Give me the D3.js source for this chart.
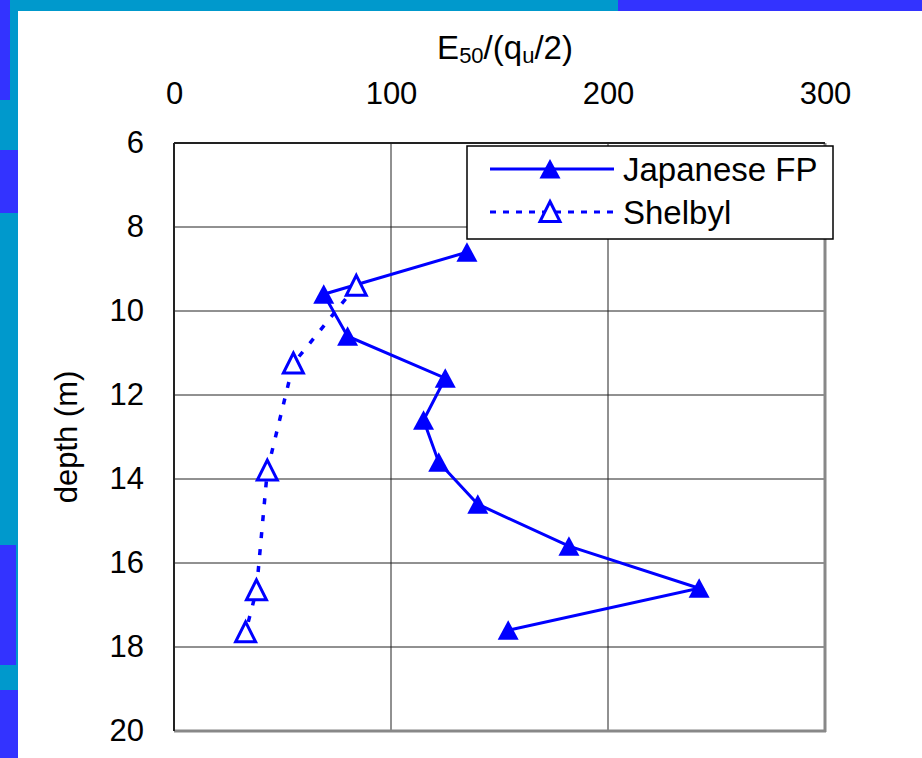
<!DOCTYPE html>
<meta charset="utf-8">
<style>
    body { margin: 0; background: #fff; }
    text { font-family: "Liberation Sans", Arial, sans-serif; fill: #000; }
    .axis path { display: none; }
    .axis line { display: none; }
    .grid { stroke: #222; stroke-width: 1; }
</style>
<svg width="922" height="758"></svg>
<script src="https://d3js.org/d3.v7.min.js"></script>
<script>

    // data
    var jpDepth = [8.6, 9.6, 10.6, 11.6, 12.6, 13.6, 14.6, 15.6, 16.6, 17.6];
    var jpValue = [135, 69, 80, 125, 115, 122, 140, 182, 242, 154];
    var shDepth = [9.4, 11.25, 13.8, 16.65, 17.65];
    var shValue = [84, 55, 43, 38, 33];
    var xTicks = [0, 100, 200, 300];
    var yTicks = [6, 8, 10, 12, 14, 16, 18, 20];
    var seriesNames = ["Japanese FP", "Shelbyl"];

    var svg = d3.select("svg");

    // slide background bits
    svg.append("rect").attr("width", 922).attr("height", 758).attr("fill", "#0099cc");
    svg.append("rect").attr("x", 618).attr("width", 304).attr("height", 11).attr("fill", "#3333ff");
    svg.append("rect").attr("width", 10).attr("height", 100).attr("fill", "#3333ff");
    svg.append("rect").attr("y", 150).attr("width", 18).attr("height", 63).attr("fill", "#3333ff");
    svg.append("rect").attr("y", 545).attr("width", 16).attr("height", 120).attr("fill", "#3333ff");
    svg.append("rect").attr("y", 690).attr("width", 18).attr("height", 68).attr("fill", "#3333ff");
    svg.append("rect").attr("x", 18).attr("y", 11).attr("width", 904).attr("height", 747).attr("fill", "#fff");

    var x = d3.scaleLinear().domain([0, 300]).range([174, 825]),
        y = d3.scaleLinear().domain([6, 20]).range([143, 731]);

    // grid
    svg.selectAll(".gx").data([100, 200]).enter().append("line")
        .attr("class", "grid")
        .attr("x1", function(d) { return x(d); }).attr("x2", function(d) { return x(d); })
        .attr("y1", y(6)).attr("y2", y(20));
    svg.selectAll(".gy").data(yTicks.slice(1, -1)).enter().append("line")
        .attr("class", "grid")
        .attr("x1", x(0)).attr("x2", x(300))
        .attr("y1", function(d) { return y(d); }).attr("y2", function(d) { return y(d); });

    // frame: dark left/top, grey bottom/right
    svg.append("line").attr("x1", x(300)).attr("x2", x(300)).attr("y1", y(6)).attr("y2", y(20) + 1)
        .attr("stroke", "#888").attr("stroke-width", 3);
    svg.append("line").attr("x1", x(0)).attr("x2", x(300) + 1).attr("y1", y(20)).attr("y2", y(20))
        .attr("stroke", "#888").attr("stroke-width", 3);
    svg.append("line").attr("x1", x(0)).attr("x2", x(0)).attr("y1", y(6)).attr("y2", y(20))
        .attr("stroke", "#222").attr("stroke-width", 2);
    svg.append("line").attr("x1", x(0)).attr("x2", x(300)).attr("y1", y(6)).attr("y2", y(6))
        .attr("stroke", "#222").attr("stroke-width", 2);

    // axes
    svg.append("g")
        .attr("class", "axis")
        .attr("transform", "translate(0," + y(6) + ")")
        .call(d3.axisTop(x).tickValues(xTicks).tickSize(0).tickPadding(39))
        .selectAll("text").style("font-size", "31px");

    svg.append("g")
        .attr("class", "axis")
        .attr("transform", "translate(" + x(0) + ",0)")
        .call(d3.axisLeft(y).tickValues(yTicks).tickSize(0).tickPadding(30))
        .selectAll("text").style("font-size", "31px");

    // axis titles
    var xt = svg.append("text")
        .attr("x", 505).attr("y", 59)
        .attr("text-anchor", "middle")
        .style("font-size", "33px");
    xt.append("tspan").text("E");
    xt.append("tspan").attr("dy", 4).style("font-size", "22px").text("50");
    xt.append("tspan").attr("dy", -4).text("/(q");
    xt.append("tspan").attr("dy", 4).style("font-size", "22px").text("u");
    xt.append("tspan").attr("dy", -4).text("/2)");

    svg.append("text")
        .attr("transform", "translate(77," + ((y(6) + y(20)) / 2) + ") rotate(-90)")
        .attr("text-anchor", "middle")
        .style("font-size", "31px")
        .text("depth (m)");

    var filledTri = "M0,-10L10.5,9.5L-10.5,9.5Z",
        openTri = "M0,-10.5L10,9.5L-10,9.5Z";

    var jp = jpDepth.map(function(d, i) { return [jpValue[i], d]; }),
        sh = shDepth.map(function(d, i) { return [shValue[i], d]; });

    var line = d3.line()
        .x(function(d) { return x(d[0]); })
        .y(function(d) { return y(d[1]); });

    // Japanese FP
    svg.append("path")
        .attr("d", line(jp))
        .attr("fill", "none")
        .attr("stroke", "#0000ff")
        .attr("stroke-width", 3);
    svg.selectAll(".jp").data(jp).enter().append("path")
        .attr("class", "jp")
        .attr("d", filledTri)
        .attr("transform", function(d) { return "translate(" + x(d[0]) + "," + y(d[1]) + ")"; })
        .attr("fill", "#0000ff");

    // Shelby
    svg.append("path")
        .attr("d", line(sh))
        .attr("fill", "none")
        .attr("stroke", "#0000ff")
        .attr("stroke-width", 3.5)
        .attr("stroke-dasharray", "6,11");
    svg.selectAll(".sh").data(sh).enter().append("path")
        .attr("class", "sh")
        .attr("d", openTri)
        .attr("transform", function(d) { return "translate(" + x(d[0]) + "," + y(d[1]) + ")"; })
        .attr("fill", "#fff")
        .attr("stroke", "#0000ff")
        .attr("stroke-width", 3);

    // legend
    var lg = svg.append("g");
    lg.append("rect")
        .attr("x", 467).attr("y", 146).attr("width", 366).attr("height", 93)
        .attr("fill", "#fff").attr("stroke", "#000").attr("stroke-width", 1.5);

    lg.append("line").attr("x1", 490).attr("x2", 614).attr("y1", 169).attr("y2", 169)
        .attr("stroke", "#0000ff").attr("stroke-width", 3);
    lg.append("path").attr("d", filledTri).attr("transform", "translate(550,169)").attr("fill", "#0000ff");
    lg.append("text").attr("x", 623).attr("y", 181).style("font-size", "33px").text(seriesNames[0]);

    lg.append("line").attr("x1", 490).attr("x2", 614).attr("y1", 212).attr("y2", 212)
        .attr("stroke", "#0000ff").attr("stroke-width", 3).attr("stroke-dasharray", "6,7");
    lg.append("path").attr("d", openTri).attr("transform", "translate(550,212)")
        .attr("fill", "#fff").attr("stroke", "#0000ff").attr("stroke-width", 3);
    lg.append("text").attr("x", 623).attr("y", 224).style("font-size", "33px").text(seriesNames[1]);

</script>
